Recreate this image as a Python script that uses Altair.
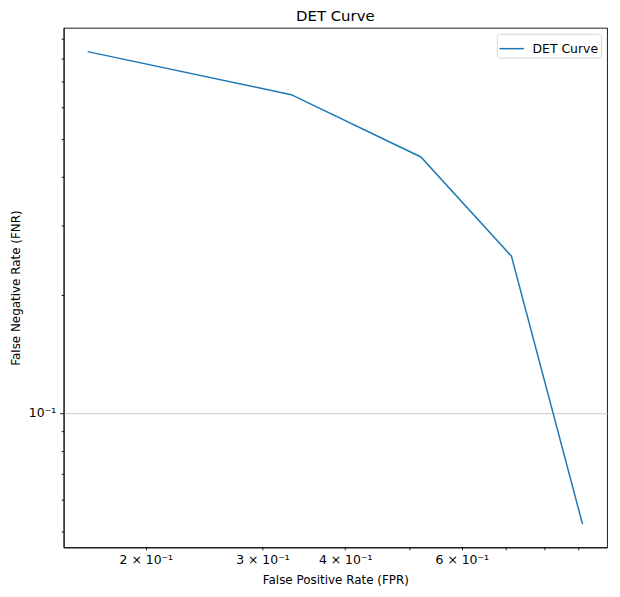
import altair as alt
import pandas as pd

fpr = [0.1634, 0.3316, 0.5205, 0.713, 0.913]
fnr = [0.833, 0.647, 0.449, 0.251, 0.0521]
series = ["DET Curve"] * 5

x_ticks = [0.2, 0.3, 0.4, 0.5, 0.6, 0.7, 0.8, 0.9]
y_ticks = [0.05, 0.06, 0.07, 0.08, 0.09, 0.1, 0.2, 0.3, 0.4, 0.5, 0.6, 0.7, 0.8, 0.9]

df = pd.DataFrame({"FPR": fpr, "FNR": fnr, "series": series})

FONT = "DejaVu Sans"

x_label_expr = ("datum.value == 0.2 ? '2 × 10⁻¹' : datum.value == 0.3 ? '3 × 10⁻¹' : "
                "datum.value == 0.4 ? '4 × 10⁻¹' : datum.value == 0.6 ? '6 × 10⁻¹' : ''")
y_label_expr = "abs(datum.value - 0.1) < 1e-9 ? '10⁻¹' : ''"

chart = alt.Chart(df).mark_line(strokeWidth=1.5).encode(
    x=alt.X("FPR:Q",
            scale=alt.Scale(type="log", domain=[0.1503, 0.9942], nice=False, zero=False),
            axis=alt.Axis(title="False Positive Rate (FPR)", values=x_ticks,
                          labelExpr=x_label_expr, grid=False, tickSize=2.5,
                          labelPadding=4, titlePadding=8, labelFlush=False,
                          labelOverlap=False)),
    y=alt.Y("FNR:Q",
            scale=alt.Scale(type="log", domain=[0.04546, 0.958], nice=False, zero=False),
            axis=alt.Axis(title="False Negative Rate (FNR)", values=y_ticks,
                          labelExpr=y_label_expr, grid=True,
                          gridOpacity={"condition": {"test": "abs(datum.value - 0.1) < 1e-9", "value": 1}, "value": 0},
                          tickSize={"condition": {"test": "abs(datum.value - 0.1) < 1e-9", "value": 4}, "value": 2.5},
                          labelPadding=4, titlePadding=6, labelFlush=False,
                          labelOverlap=False)),
    color=alt.Color("series:N", scale=alt.Scale(range=["#1f77b4"]),
                    legend=alt.Legend(title=None, orient="top-right", symbolType="stroke",
                                      symbolStrokeWidth=1.5, symbolSize=600,
                                      labelOffset=8,
                                      fillColor="white", strokeColor="#d6d6d6",
                                      cornerRadius=3, padding=2, offset=6,
                                      labelFontSize=12.5, labelFont=FONT, labelColor="black")),
).properties(
    width=547,
    height=523,
    title=alt.TitleParams("DET Curve", fontSize=15, font=FONT, fontWeight="normal",
                          anchor="middle", offset=4, color="black"),
    autosize=alt.AutoSizeParams(type="none"),
    padding={"left": 56, "top": 18, "right": 5, "bottom": 38},
).configure_view(
    stroke="black", strokeWidth=0.9
).configure_axis(
    labelFont=FONT, titleFont=FONT, labelFontSize=12.5, titleFontSize=12,
    titleFontWeight="normal", labelColor="black", titleColor="black",
    domainColor="black", domainWidth=0.9, tickColor="black", tickWidth=0.9,
    gridColor="#c8c8c8", gridWidth=1
)

chart.save("out.html", embed_options={"renderer": "svg", "actions": False})
